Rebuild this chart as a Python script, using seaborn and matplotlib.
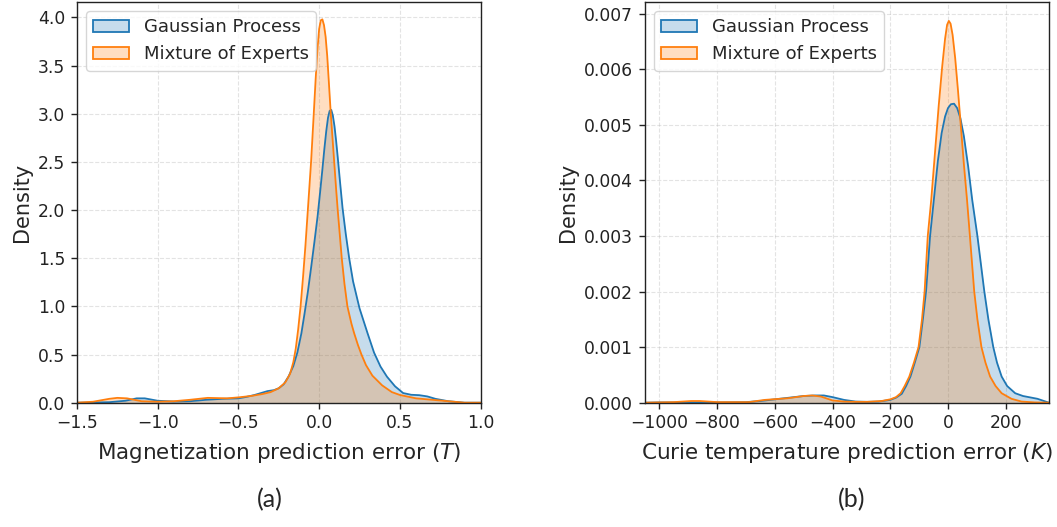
import numpy as np
import pandas as pd
import matplotlib
matplotlib.use("Agg")
import matplotlib.pyplot as plt
import seaborn as sns
from matplotlib.patches import Patch
from matplotlib.colors import to_rgba
from matplotlib.ticker import FormatStrFormatter

# ---------------- data ----------------
series_names = ["Gaussian Process", "Mixture of Experts"]
colors = ["#1f77b4", "#ff7f0e"]

# Panel (a): magnetization prediction error (T) -> density
mag_gp_x = [-1.5, -1.3, -1.2, -1.13, -1.08, -1.0, -0.9, -0.8, -0.7, -0.6, -0.5, -0.45,
            -0.4, -0.36, -0.32, -0.28, -0.25, -0.22, -0.19, -0.16, -0.135, -0.11, -0.09,
            -0.07, -0.05, -0.03, -0.01, 0.005, 0.02, 0.032, 0.044, 0.055, 0.065, 0.075,
            0.085, 0.095, 0.105, 0.115, 0.13, 0.145, 0.165, 0.186, 0.21, 0.25, 0.3,
            0.34, 0.38, 0.42, 0.47, 0.52, 0.57, 0.62, 0.67, 0.72, 0.8, 0.9, 1.0]
mag_gp_y = [0.0, 0.005, 0.02, 0.045, 0.045, 0.02, 0.012, 0.015, 0.03, 0.04, 0.045, 0.06,
            0.08, 0.1, 0.12, 0.13, 0.15, 0.19, 0.27, 0.38, 0.52, 0.72, 0.93,
            1.15, 1.4, 1.66, 1.93, 2.17, 2.42, 2.63, 2.82, 2.96, 3.03, 3.04,
            2.98, 2.87, 2.72, 2.55, 2.28, 2.02, 1.75, 1.5, 1.26, 0.98, 0.72,
            0.52, 0.375, 0.27, 0.17, 0.1, 0.082, 0.078, 0.065, 0.04, 0.015, 0.0, 0.0]

mag_moe_x = [-1.5, -1.4, -1.3, -1.25, -1.19, -1.1, -1.0, -0.9, -0.8, -0.69, -0.57,
             -0.5, -0.42, -0.35, -0.3, -0.25, -0.21, -0.18, -0.16, -0.145, -0.13, -0.115,
             -0.1, -0.085, -0.068, -0.05, -0.035, -0.022, -0.01, 0.0, 0.01, 0.02, 0.03,
             0.04, 0.05, 0.06, 0.072, 0.083, 0.094, 0.105, 0.115, 0.128, 0.14, 0.157,
             0.175, 0.2, 0.217, 0.24, 0.262, 0.29, 0.33, 0.39, 0.45, 0.5, 0.6, 0.7,
             0.8, 0.9, 1.0]
mag_moe_y = [0.0, 0.01, 0.04, 0.05, 0.045, 0.015, 0.01, 0.015, 0.03, 0.05, 0.045,
             0.055, 0.07, 0.09, 0.11, 0.15, 0.21, 0.3, 0.42, 0.56, 0.76, 1.0,
             1.3, 1.63, 2.05, 2.5, 2.95, 3.35, 3.68, 3.88, 3.97, 3.98, 3.92,
             3.8, 3.6, 3.33, 3.0, 2.74, 2.48, 2.22, 2.0, 1.74, 1.5, 1.23,
             1.0, 0.82, 0.72, 0.6, 0.5, 0.39, 0.28, 0.18, 0.11, 0.08, 0.045, 0.03,
             0.015, 0.0, 0.0]

# Panel (b): Curie temperature prediction error (K) -> density
curie_gp_x = [-1050, -1000, -950, -900, -800, -700, -650, -600, -550, -500, -460, -430,
              -400, -360, -320, -280, -240, -200, -180, -160, -145, -130, -115, -99,
              -87, -76, -62, -49, -35, -22, -10, 0, 10, 21, 32, 43, 55, 70, 84, 102,
              114, 126, 140, 157, 170, 186, 205, 233, 260, 290, 310, 330, 350]
curie_gp_y = [0.0, 0.005, 0.005, 0.01, 0.005, 0.01, 0.03, 0.06, 0.09, 0.12, 0.13, 0.13,
              0.1, 0.05, 0.02, 0.015, 0.02, 0.05, 0.09, 0.16, 0.3, 0.47, 0.72, 1.0,
              1.5, 2.0, 3.0, 3.65, 4.35, 4.85, 5.15, 5.3, 5.37, 5.38, 5.3, 5.12, 4.8,
              4.25, 3.65, 3.0, 2.5, 2.0, 1.5, 1.0, 0.72, 0.47, 0.3, 0.17, 0.12, 0.09,
              0.07, 0.035, 0.0]
curie_gp_y = [v * 1e-3 for v in curie_gp_y]

curie_moe_x = [-1050, -1000, -950, -890, -860, -800, -690, -635, -555, -500, -470,
               -440, -400, -360, -320, -280, -230, -200, -180, -164, -150, -134, -118,
               -102, -90, -81, -70, -58, -45, -32, -20, -10, -3, 3, 9, 16, 25, 35, 45,
               55, 66, 76, 91, 102, 116, 130, 146, 165, 186, 220, 255, 300, 350]
curie_moe_y = [0.0, 0.005, 0.01, 0.03, 0.03, 0.01, 0.01, 0.05, 0.08, 0.12, 0.13,
               0.11, 0.04, 0.02, 0.015, 0.015, 0.03, 0.06, 0.1, 0.17, 0.3, 0.47, 0.72,
               1.0, 1.5, 2.0, 3.0, 3.65, 4.5, 5.35, 6.05, 6.55, 6.8, 6.87, 6.82, 6.62,
               6.2, 5.6, 4.95, 4.3, 3.65, 3.0, 2.0, 1.5, 1.0, 0.72, 0.47, 0.3, 0.17,
               0.07, 0.02, 0.005, 0.0]
curie_moe_y = [v * 1e-3 for v in curie_moe_y]

mag_xticks = [-1.5, -1.0, -0.5, 0.0, 0.5, 1.0]
curie_xticks = [-1000, -800, -600, -400, -200, 0, 200]
panel_labels = ["(a)", "(b)"]
xlabels = ["Magnetization prediction error ($T$)", "Curie temperature prediction error ($K$)"]

# ---------------- figure ----------------
sns.set_style("ticks")
plt.rcParams["font.family"] = ["DejaVu Sans"]
plt.rcParams["mathtext.fontset"] = "dejavusans"

fig = plt.figure(figsize=(10.57, 5.27), dpi=100)
ax1 = fig.add_axes([0.0728, 0.2359, 0.3819, 0.7603])
ax2 = fig.add_axes([0.6102, 0.2359, 0.3822, 0.7603])

panels = [
    (ax1, [(mag_gp_x, mag_gp_y), (mag_moe_x, mag_moe_y)], (-1.5, 1.0), mag_xticks),
    (ax2, [(curie_gp_x, curie_gp_y), (curie_moe_x, curie_moe_y)], (-1050, 350), curie_xticks),
]

for i, (ax, curves, xlim, xticks) in enumerate(panels):
    for (xs, ys), name, c in zip(curves, series_names, colors):
        df = pd.DataFrame({"x": xs, "y": ys})
        ax.fill_between(df["x"], df["y"], 0, color=c, alpha=0.25, linewidth=0)
        sns.lineplot(data=df, x="x", y="y", ax=ax, color=c, linewidth=1.3,
                     sort=False, estimator=None)
    ax.set_xlim(*xlim)
    ax.set_xticks(xticks)
    ax.grid(True, linestyle="--", color="#b0b0b0", alpha=0.35, linewidth=0.8)
    ax.set_axisbelow(True)
    ax.set_xlabel(xlabels[i], fontsize=15.5, labelpad=6)
    ax.set_ylabel("Density", fontsize=15)
    ax.tick_params(labelsize=12.3, direction="out", length=4, width=1,
                   colors="#222222", pad=4.5)
    for s in ax.spines.values():
        s.set_visible(True)
        s.set_color("#222222")
        s.set_linewidth(1.0)
    handles = [Patch(facecolor=to_rgba(c, 0.25), edgecolor=c, linewidth=1.3, label=n)
               for n, c in zip(series_names, colors)]
    ax.legend(handles=handles, loc="upper left", fontsize=13, frameon=True,
              framealpha=0.8, edgecolor="#cccccc", fancybox=True)

ax1.set_yticks([0, 0.5, 1.0, 1.5, 2.0, 2.5, 3.0, 3.5, 4.0])
ax1.yaxis.set_major_formatter(FormatStrFormatter("%.1f"))
ax2.set_yticks([0, 0.001, 0.002, 0.003, 0.004, 0.005, 0.006, 0.007])
ax2.yaxis.set_major_formatter(FormatStrFormatter("%.3f"))
ax1.set_ylim(0, 4.16)
ax2.set_ylim(0, 0.00721)

fig.text(0.2555, 0.051, panel_labels[0], ha="center", va="center", fontsize=18,
         family=["Lato", "DejaVu Sans"])
fig.text(0.806, 0.051, panel_labels[1], ha="center", va="center", fontsize=18,
         family=["Lato", "DejaVu Sans"])

fig.savefig("out.png", dpi=100)
